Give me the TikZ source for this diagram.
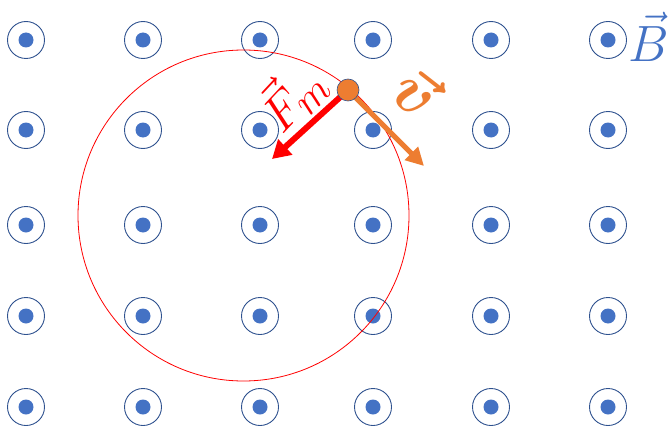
\documentclass[tikz,border=0pt]{standalone}
\usetikzlibrary{arrows.meta}
\definecolor{bluB}{HTML}{4472C4}
\definecolor{bordo}{HTML}{2F528F}
\definecolor{arancio}{HTML}{ED7D31}
\tikzset{
  campo/.style={circle,draw=bordo,line width=0.9pt,minimum size=37pt,inner sep=0pt},
  punto/.style={circle,fill=bluB,minimum size=15pt,inner sep=0pt},
  carica/.style={circle,fill=arancio,draw=bordo,line width=0.6pt,minimum size=22pt,inner sep=0pt},
  forza/.style={red,line width=6pt,-{Triangle[length=18pt,width=20pt]}},
  velo/.style={arancio,line width=5pt,-{Triangle[length=18pt,width=18pt]}}
}
\begin{document}
\begin{tikzpicture}[x=1pt,y=-1pt]
    \useasboundingbox (0,0) rectangle (668,425);

    % Campo B uscente
    \foreach \x [count=\i] in {26,143,260,373,491,608}
      \foreach \y [count=\j] in {40,130,225,316,407} {
        \node[campo] (c\i\j) at (\x,\y) {};
        \node[punto] (p\i\j) at (\x,\y) {};
      }
    \node[bluB,font=\Huge,scale=2.05,inner sep=0pt] (lB) at (649,37) {$\vec{B}$};

    % Traiettoria
    \node[circle,draw=red,line width=0.8pt,minimum size=331pt,inner sep=0pt] (traiettoria) at (243.5,215.5) {};

    % Carica, forza e velocita
    \coordinate (q) at (348,90);
    \coordinate (fm) at (272,159);
    \coordinate (v) at (424,166);
    \draw[forza] (q) -- (fm);
    \draw[velo] (q) -- (v);
    \node[carica] (carica) at (q) {};

    % Etichette
    \node[red,rotate=47,font=\Huge,scale=2,inner sep=0pt] (lF) at (291,97) {$\vec{F}_m$};
    \node[arancio,rotate=-38,font=\Huge\boldmath,scale=2.6,inner sep=0pt] (lv) at (417,91) {$\vec{v}$};
\end{tikzpicture}
\end{document}
